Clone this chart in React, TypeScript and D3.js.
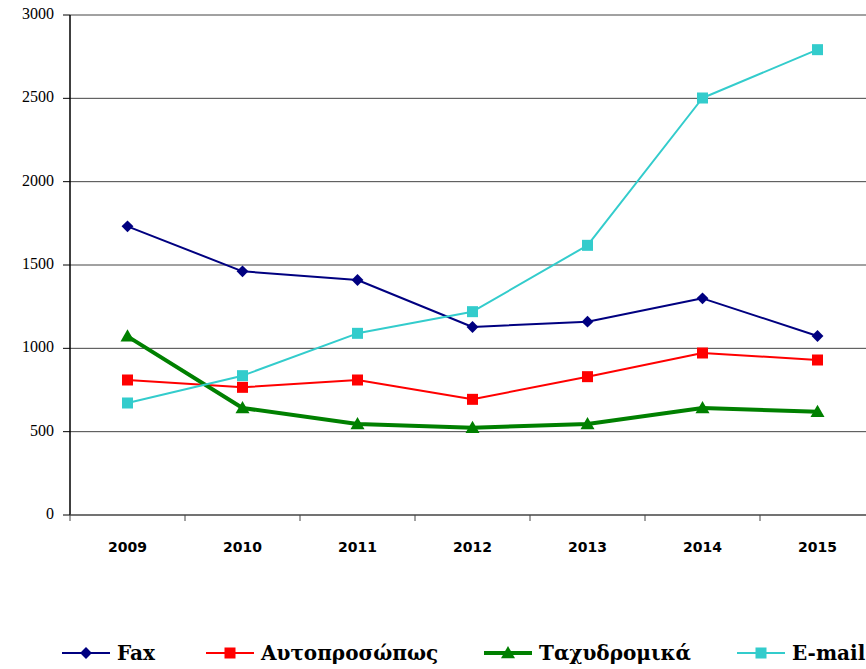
import React from "react";
import * as d3 from "d3";

const years = ["2009", "2010", "2011", "2012", "2013", "2014", "2015"];
const fax = [1732, 1462, 1410, 1128, 1160, 1300, 1074];
const autoprosopos = [810, 766, 810, 694, 830, 972, 930];
const taxydromika = [1072, 642, 546, 524, 546, 642, 620];
const email = [672, 836, 1090, 1220, 1618, 2502, 2792];
const yTicks = [0, 500, 1000, 1500, 2000, 2500, 3000];

const seriesNames = ["Fax", "Αυτοπροσώπως", "Ταχυδρομικά", "E-mail"];
const seriesColors = ["#000080", "#FF0000", "#008000", "#33CCCC"];
const seriesWidths = [2, 2, 4, 2];
const seriesMarkers = ["diamond", "square", "triangle", "square"];
const legendX = [62, 206, 484, 737];

const W = 866;
const H = 669;
const left = 70;
const top = 15;
const bottom = 515;
const band = 115;

function Marker({ kind, x, y, color }: { kind: string; x: number; y: number; color: string }) {
  if (kind === "diamond") {
    const p = d3.symbol().type(d3.symbolDiamond2).size(90)();
    return <path d={p || ""} transform={`translate(${x},${y})`} fill={color} />;
  }
  if (kind === "triangle") {
    const s = 7;
    return <path d={`M${x},${y - s}L${x + s},${y + s * 0.75}L${x - s},${y + s * 0.75}Z`} fill={color} />;
  }
  return <rect x={x - 5.5} y={y - 5.5} width={11} height={11} fill={color} />;
}

export default function App() {
  const x = d3.scaleBand<string>().domain(years).range([left, left + band * years.length]);
  const y = d3.scaleLinear().domain([0, 3000]).range([bottom, top]);
  const data = [fax, autoprosopos, taxydromika, email];
  const line = d3
    .line<number>()
    .x((_, i) => (x(years[i]) as number) + x.bandwidth() / 2)
    .y((v) => y(v));

  return (
    <svg width={W} height={H} style={{ position: "absolute", left: 0, top: 0, background: "#fff" }}>
      {yTicks.map((t) => (
        <g key={t}>
          {t > 0 && <line x1={left} x2={W} y1={y(t)} y2={y(t)} stroke="#444" strokeWidth={1} />}
          <line x1={63} x2={left} y1={y(t)} y2={y(t)} stroke="#000" strokeWidth={1} />
          <text
            x={54}
            y={y(t) + 4}
            textAnchor="end"
            fontFamily="'Liberation Serif', serif"
            fontSize={16}
            style={{ fontVariantNumeric: "oldstyle-nums" }}
          >
            {t}
          </text>
        </g>
      ))}
      <line x1={left} x2={left} y1={top} y2={bottom} stroke="#000" strokeWidth={1.5} />
      <line x1={left} x2={W} y1={bottom} y2={bottom} stroke="#444" strokeWidth={1.5} />
      {years.map((yr) => (
        <g key={yr}>
          <line x1={x(yr) as number} x2={x(yr) as number} y1={bottom} y2={bottom + 6} stroke="#444" />
          <text
            x={(x(yr) as number) + x.bandwidth() / 2}
            y={552}
            textAnchor="middle"
            fontFamily="'DejaVu Sans', sans-serif"
            fontWeight="bold"
            fontSize={14}
          >
            {yr}
          </text>
        </g>
      ))}
      {data.map((d, si) => (
        <g key={si}>
          <path d={line(d) || ""} fill="none" stroke={seriesColors[si]} strokeWidth={seriesWidths[si]} strokeLinejoin="round" />
          {d.map((v, i) => (
            <Marker
              key={i}
              kind={seriesMarkers[si]}
              x={(x(years[i]) as number) + x.bandwidth() / 2}
              y={y(v)}
              color={seriesColors[si]}
            />
          ))}
        </g>
      ))}
      {seriesNames.map((n, si) => (
        <g key={n}>
          <line
            x1={legendX[si]}
            x2={legendX[si] + 48}
            y1={653}
            y2={653}
            stroke={seriesColors[si]}
            strokeWidth={seriesWidths[si]}
          />
          <Marker kind={seriesMarkers[si]} x={legendX[si] + 24} y={653} color={seriesColors[si]} />
          <text
            x={legendX[si] + 55}
            y={660}
            fontFamily="'DejaVu Serif', serif"
            fontWeight="bold"
            fontSize={20}
          >
            {n}
          </text>
        </g>
      ))}
    </svg>
  );
}
